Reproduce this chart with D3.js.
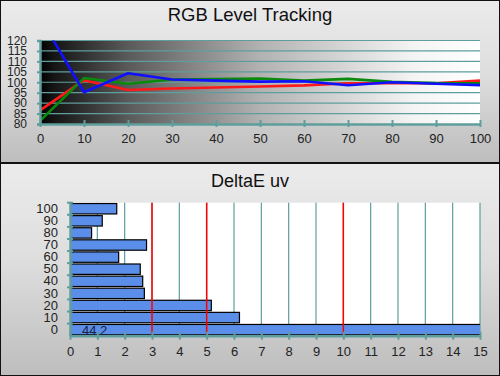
<!DOCTYPE html>
<html>
<head>
<meta charset="utf-8">
<script src="https://cdn.jsdelivr.net/npm/d3@7"></script>
<style>
  body { margin: 0; padding: 0; background: #fff; }
  svg { display: block; font-family: "Liberation Sans", Arial, sans-serif; }
</style>
</head>
<body>
<div id="chart"></div>
<script>
// top chart: RGB level tracking (% of target)
var levels = [0, 10, 20, 30, 40, 50, 60, 70, 80, 90, 100];
var redVals   = [86.5, 101, 96.3, 97, 97.5, 98, 98.5, 99.5, 99.5, 99.5, 100.8];
var greenVals = [81.5, 102, 99.3, 101.3, 101.5, 101.8, 100.8, 101.6, 100.2, 99.6, 99.5];
var blueVals  = [131, 95.2, 104.3, 101.3, 100.8, 100.3, 100.5, 98.6, 100, 99.3, 98.6];
var yTicksTop = [80, 85, 90, 95, 100, 105, 110, 115, 120];

// bottom chart: DeltaE uv per level
var deCats = ["100", "90", "80", "70", "60", "50", "40", "30", "20", "10", "0"];
var deVals = [1.71, 1.18, 0.79, 2.8, 1.78, 2.57, 2.66, 2.72, 5.17, 6.2, 44.2];
var deLimits = [3, 5, 10];
var xTicksBottom = d3.range(0, 16);

var W = 500, H = 376;
var teal = "#5f9e9c";

var svg = d3.select("#chart").append("svg")
    .attr("width", W).attr("height", H);

var defs = svg.append("defs");

var panelGrad = defs.append("linearGradient")
    .attr("id", "panelGrad").attr("x1", 0).attr("y1", 0).attr("x2", 0).attr("y2", 1);
panelGrad.append("stop").attr("offset", "0%").attr("stop-color", "#ebebeb");
panelGrad.append("stop").attr("offset", "45%").attr("stop-color", "#dedede");
panelGrad.append("stop").attr("offset", "100%").attr("stop-color", "#bdbdbd");

var plotGrad = defs.append("linearGradient")
    .attr("id", "plotGrad").attr("x1", 0).attr("y1", 0).attr("x2", 1).attr("y2", 0);
[[0, "#000"], [0.03, "#141414"], [0.2, "#5a5a5a"], [0.5, "#b2b2b2"], [0.85, "#f4f4f4"], [1, "#fff"]]
    .forEach(function (s) {
        plotGrad.append("stop").attr("offset", s[0]).attr("stop-color", s[1]);
    });

// panels
svg.append("rect").attr("x", 0).attr("y", 0).attr("width", W).attr("height", 163)
    .attr("fill", "url(#panelGrad)");
svg.append("rect").attr("x", 0).attr("y", 164).attr("width", W).attr("height", 212)
    .attr("fill", "url(#panelGrad)");
svg.append("rect").attr("x", 0.5).attr("y", 0.5).attr("width", W - 1).attr("height", H - 1)
    .attr("fill", "none").attr("stroke", "#111");
svg.append("line").attr("x1", 0).attr("x2", W).attr("y1", 163).attr("y2", 163)
    .attr("stroke", "#111").attr("stroke-width", 2);

// ---------- top chart ----------
var x1 = d3.scaleLinear().domain([0, 100]).range([40, 480]);
var y1 = d3.scaleLinear().domain([80, 120]).range([124, 40.5]);

svg.append("text").attr("x", 250).attr("y", 21).attr("text-anchor", "middle")
    .attr("font-size", 18.5).attr("fill", "#111").text("RGB Level Tracking");

svg.append("rect").attr("x", x1(0)).attr("y", y1(120))
    .attr("width", x1(100) - x1(0)).attr("height", y1(80) - y1(120))
    .attr("fill", "url(#plotGrad)");

svg.append("g").selectAll("line").data(yTicksTop.slice(1)).enter().append("line")
    .attr("x1", x1(0)).attr("x2", x1(100))
    .attr("y1", function (d) { return y1(d); }).attr("y2", function (d) { return y1(d); })
    .attr("stroke", teal).attr("stroke-width", 1.2);

defs.append("clipPath").attr("id", "clipTop").append("rect")
    .attr("x", x1(0)).attr("y", y1(120))
    .attr("width", x1(100) - x1(0)).attr("height", y1(80) - y1(120));

var line = d3.line()
    .x(function (d, i) { return x1(levels[i]); })
    .y(function (d) { return y1(d); });

var series = [[redVals, "#ff1a1a"], [greenVals, "#0a8a0a"], [blueVals, "#1010ff"]];
var lines = svg.append("g").attr("clip-path", "url(#clipTop)");
series.forEach(function (s) {
    lines.append("path").datum(s[0])
        .attr("fill", "none").attr("stroke", s[1]).attr("stroke-width", 2.6)
        .attr("stroke-linejoin", "round").attr("d", line);
});

var xAxisTop = svg.append("g").attr("transform", "translate(0," + y1(80) + ")")
    .call(d3.axisBottom(x1).tickValues(levels).tickSize(0).tickPadding(10));
xAxisTop.select(".domain").attr("stroke", teal).attr("stroke-width", 2.5);
xAxisTop.selectAll(".tick line").attr("y1", -4).attr("y2", 3).attr("stroke", teal).attr("stroke-width", 2);
xAxisTop.selectAll(".tick text").attr("font-size", 13).attr("fill", "#222")
    .attr("font-family", "Liberation Sans, Arial, sans-serif");

var yAxisTop = svg.append("g").attr("transform", "translate(" + x1(0) + ",0)")
    .call(d3.axisLeft(y1).tickValues(yTicksTop).tickSize(3).tickPadding(10));
yAxisTop.select(".domain").attr("stroke", teal).attr("stroke-width", 2.5);
yAxisTop.selectAll(".tick line").attr("stroke", teal).attr("stroke-width", 2);
yAxisTop.selectAll(".tick text").attr("font-size", 12).attr("fill", "#222")
    .attr("font-family", "Liberation Sans, Arial, sans-serif");

// ---------- bottom chart ----------
var x2 = d3.scaleLinear().domain([0, 15]).range([70, 480]);
var y2 = d3.scaleBand().domain(deCats).range([202.7, 335.7]).paddingInner(0.14).paddingOuter(0.07);

svg.append("text").attr("x", 250).attr("y", 187).attr("text-anchor", "middle")
    .attr("font-size", 18).attr("fill", "#111").text("DeltaE uv");

svg.append("rect").attr("x", x2(0)).attr("y", 202.7)
    .attr("width", x2(15) - x2(0)).attr("height", 133)
    .attr("fill", "#fff");

svg.append("g").selectAll("line").data(xTicksBottom.slice(1)).enter().append("line")
    .attr("x1", function (d) { return x2(d); }).attr("x2", function (d) { return x2(d); })
    .attr("y1", 202.7).attr("y2", 335.7)
    .attr("stroke", teal).attr("stroke-width", 1.2);

defs.append("clipPath").attr("id", "clipBottom").append("rect")
    .attr("x", x2(0)).attr("y", 200).attr("width", x2(15) - x2(0)).attr("height", 140);

svg.append("g").attr("clip-path", "url(#clipBottom)")
    .selectAll("rect").data(deVals).enter().append("rect")
    .attr("x", x2(0))
    .attr("y", function (d, i) { return y2(deCats[i]); })
    .attr("width", function (d) { return x2(Math.min(d, 15.2)) - x2(0); })
    .attr("height", y2.bandwidth())
    .attr("fill", "#5b8ee8").attr("stroke", "#000").attr("stroke-width", 1.2);

svg.append("g").selectAll("line").data(deLimits).enter().append("line")
    .attr("x1", function (d) { return x2(d); }).attr("x2", function (d) { return x2(d); })
    .attr("y1", 202.7).attr("y2", 335.7)
    .attr("stroke", "#f00").attr("stroke-width", 1.5);

svg.append("text").attr("x", x2(0) + 12).attr("y", y2("0") + y2.bandwidth() / 2 + 5)
    .attr("font-size", 13).attr("fill", "#1a2040")
    .text(String(deVals[deVals.length - 1]).replace(".", ","));

var xAxisBottom = svg.append("g").attr("transform", "translate(0,335.7)")
    .call(d3.axisBottom(x2).tickValues(xTicksBottom).tickSize(0).tickPadding(11));
xAxisBottom.select(".domain").attr("stroke", teal).attr("stroke-width", 2.5);
xAxisBottom.selectAll(".tick line").attr("y1", -4).attr("y2", 4).attr("stroke", teal).attr("stroke-width", 2);
xAxisBottom.selectAll(".tick text").attr("font-size", 13).attr("fill", "#222")
    .attr("font-family", "Liberation Sans, Arial, sans-serif");

var yAxisBottom = svg.append("g").attr("transform", "translate(" + x2(0) + ",0)")
    .call(d3.axisLeft(y2).tickSize(0).tickPadding(12));
yAxisBottom.select(".domain").attr("stroke", teal).attr("stroke-width", 2.5);
yAxisBottom.selectAll(".tick text").attr("font-size", 13).attr("fill", "#222")
    .attr("font-family", "Liberation Sans, Arial, sans-serif");
// small ticks at band boundaries
yAxisBottom.selectAll(".bnd").data(deCats).enter().append("line")
    .attr("x1", -3).attr("x2", 3)
    .attr("y1", function (d) { return y2(d) - y2.step() * y2.paddingInner() / 2; })
    .attr("y2", function (d) { return y2(d) - y2.step() * y2.paddingInner() / 2; })
    .attr("stroke", teal).attr("stroke-width", 2);
</script>
</body>
</html>
